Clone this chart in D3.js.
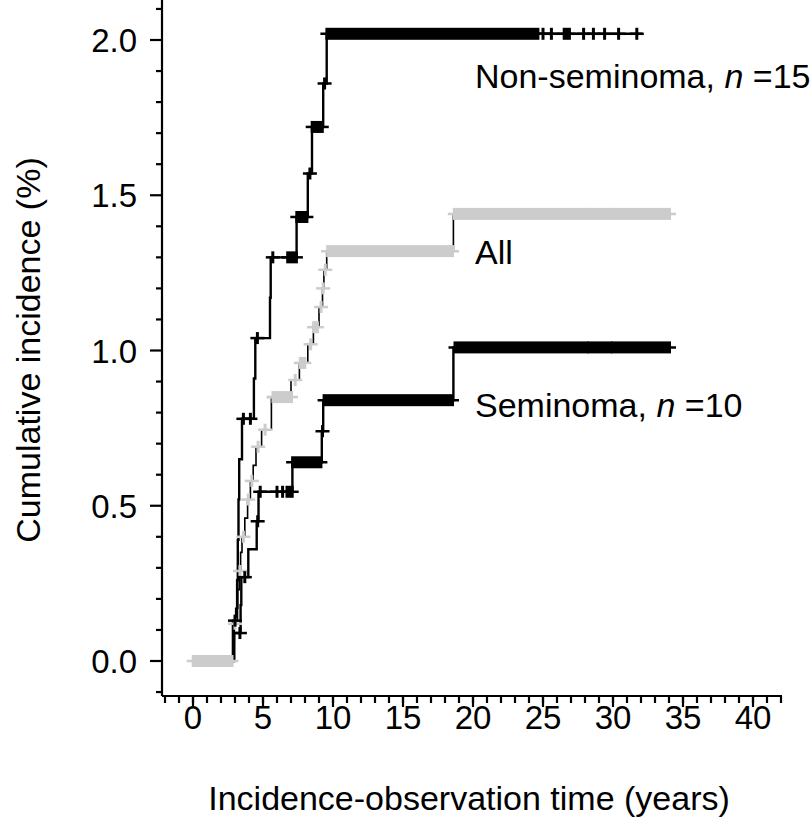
<!DOCTYPE html>
<html>
<head>
<meta charset="utf-8">
<script src="https://cdn.jsdelivr.net/npm/d3@7"></script>
<style>
  html, body { margin: 0; padding: 0; background: #fff; }
  svg { display: block; }
  text { font-family: "Liberation Sans", Arial, Helvetica, sans-serif; fill: #000; }
</style>
</head>
<body>
<svg id="chart" width="811" height="828"></svg>
<script>
// ---------------- DATA ----------------
// step functions: [time (years), cumulative incidence (%) after the step]
const nonSemSteps = [[0,0],[2.85,0.13],[3.15,0.26],[3.2,0.39],[3.25,0.52],[3.3,0.65],[3.5,0.78],[4.35,0.91],[4.45,1.04],[5.5,1.17],[5.55,1.30],[7.4,1.43],[8.2,1.57],[8.5,1.72],[9.3,1.86],[9.55,2.02]];
const nonSemEnd = 32.1;
const nonSemCensor = [3.0, 3.6, 4.1, 4.6, 5.7, 8.35, 9.4, 25.0, 25.6, 27.9, 28.6, 29.4, 30.4, 31.7];
const nonSemCensorBands = [[6.8,7.35],[7.45,8.1],[8.55,9.2],[9.6,24.6],[26.55,26.85]];

const semSteps = [[0,0],[2.95,0.09],[3.4,0.18],[3.45,0.27],[3.95,0.36],[4.55,0.45],[4.68,0.545],[7.1,0.64],[9.2,0.74],[9.3,0.84],[18.6,1.01]];
const semEnd = 34.0;
const semCensor = [3.35, 3.7, 4.62, 4.8, 6.0, 6.4, 9.25];
const semCensorBands = [[6.75,7.05],[7.15,9.1],[9.4,18.5],[18.75,28.1],[28.3,29.8],[30.0,34.0]];

const allSteps = [[0,0],[2.85,0.06],[2.95,0.12],[3.05,0.17],[3.2,0.23],[3.3,0.29],[3.4,0.35],[3.5,0.40],[3.7,0.46],[3.9,0.52],[4.1,0.58],[4.3,0.63],[4.5,0.69],[4.9,0.745],[5.6,0.85],[7.0,0.905],[7.6,0.96],[8.2,1.02],[8.6,1.075],[9.0,1.14],[9.25,1.20],[9.35,1.26],[9.55,1.32],[18.6,1.44]];
const allEnd = 34.0;
const allCensor = [3.0, 3.35, 3.6, 3.95, 4.2, 4.65, 5.15, 5.8, 6.4, 7.3, 8.4, 9.15, 9.3, 9.45];
const allCensorBands = [[0.05,2.75],[5.75,7.0],[7.7,7.95],[8.65,8.85],[9.65,18.5],[18.7,28.1],[28.3,29.8],[30.0,34.0]];

const xMajorTicks = [0,5,10,15,20,25,30,35,40];
const xMinorTicks = d3.range(-2, 43, 1);
const yMajorTicks = [0,0.5,1.0,1.5,2.0];
const yMinorTicks = [-0.1,0.1,0.2,0.3,0.4,0.6,0.7,0.8,0.9,1.1,1.2,1.3,1.4,1.6,1.7,1.8,1.9,2.1];

// curve labels, placed at a (value) height beside the curve ends
const labels = [
  {name: "Non-seminoma", n: "15", v: 1.885},
  {name: "All", n: null, v: 1.318},
  {name: "Seminoma", n: "10", v: 0.824}
];

// ---------------- SCALES ----------------
const svg = d3.select("#chart");
const x = d3.scaleLinear().domain([0, 40]).range([193, 753]);
const y = d3.scaleLinear().domain([0, 2]).range([661, 40]);
const axisX0 = 162, axisY0 = 696;

// ---------------- AXES ----------------
const gY = svg.append("g");
gY.append("line").attr("x1", axisX0).attr("x2", axisX0).attr("y1", 0).attr("y2", axisY0)
  .attr("stroke", "#000").attr("stroke-width", 2.2);
gY.selectAll(".ymaj").data(yMajorTicks).join("line")
  .attr("x1", axisX0 - 12).attr("x2", axisX0).attr("y1", d => y(d)).attr("y2", d => y(d))
  .attr("stroke", "#000").attr("stroke-width", 2.2);
gY.selectAll(".ymin").data(yMinorTicks).join("line")
  .attr("x1", axisX0 - 6).attr("x2", axisX0).attr("y1", d => y(d)).attr("y2", d => y(d))
  .attr("stroke", "#000").attr("stroke-width", 2.2);
gY.selectAll(".ylab").data(yMajorTicks).join("text")
  .attr("x", 137).attr("y", d => y(d) + 12)
  .attr("text-anchor", "end").attr("font-size", 33)
  .text(d => d3.format(".1f")(d));

const gX = svg.append("g");
gX.append("line").attr("x1", axisX0).attr("x2", x(42) + 1).attr("y1", axisY0).attr("y2", axisY0)
  .attr("stroke", "#000").attr("stroke-width", 2.2);
gX.selectAll(".xmin").data(xMinorTicks).join("line")
  .attr("x1", d => x(d)).attr("x2", d => x(d)).attr("y1", axisY0).attr("y2", axisY0 + 7)
  .attr("stroke", "#000").attr("stroke-width", 2.2);
gX.selectAll(".xmaj").data(xMajorTicks).join("line")
  .attr("x1", d => x(d)).attr("x2", d => x(d)).attr("y1", axisY0).attr("y2", axisY0 + 11)
  .attr("stroke", "#000").attr("stroke-width", 2.2);
gX.selectAll(".xlab").data(xMajorTicks).join("text")
  .attr("x", d => x(d)).attr("y", 729)
  .attr("text-anchor", "middle").attr("font-size", 33)
  .text(d => d);

svg.append("text").attr("x", 469).attr("y", 810).attr("text-anchor", "middle")
  .attr("font-size", 34).text("Incidence-observation time (years)");
svg.append("text").attr("transform", "translate(40,350) rotate(-90)")
  .attr("text-anchor", "middle").attr("font-size", 34).text("Cumulative incidence (%)");

// ---------------- CURVES ----------------
function stepValue(steps, t) {
  let v = steps[0][1];
  for (const s of steps) { if (s[0] <= t) v = s[1]; }
  return v;
}
const line = d3.line().x(d => x(d[0])).y(d => y(d[1])).curve(d3.curveStepAfter);

const series = [
  {steps: allSteps, end: allEnd, censor: allCensor, bands: allCensorBands, mark: "#cccccc", lw: 1.6},
  {steps: semSteps, end: semEnd, censor: semCensor, bands: semCensorBands, mark: "#000", lw: 2.4},
  {steps: nonSemSteps, end: nonSemEnd, censor: nonSemCensor, bands: nonSemCensorBands, mark: "#000", lw: 2.4}
];

// lines first
series.forEach(s => {
  const pts = s.steps.concat([[s.end, s.steps[s.steps.length - 1][1]]]);
  svg.append("path").datum(pts).attr("d", line)
    .attr("fill", "none").attr("stroke", "#000").attr("stroke-width", s.lw);
});

// censor marks
series.forEach(s => {
  const g = svg.append("g");
  g.selectAll(".band").data(s.bands).join("g").each(function(b) {
    const v = stepValue(s.steps, (b[0] + b[1]) / 2);
    const sel = d3.select(this);
    sel.append("rect").attr("x", x(b[0]) - 2).attr("width", x(b[1]) - x(b[0]) + 4)
      .attr("y", y(v) - 6).attr("height", 12).attr("fill", s.mark);
    sel.append("line").attr("x1", x(b[0]) - 7).attr("x2", x(b[1]) + 7)
      .attr("y1", y(v)).attr("y2", y(v)).attr("stroke", s.mark).attr("stroke-width", 2.5);
  });
  g.selectAll(".cross").data(s.censor).join("g").each(function(t) {
    const v = stepValue(s.steps, t);
    const sel = d3.select(this);
    sel.append("line").attr("x1", x(t) - 7).attr("x2", x(t) + 7)
      .attr("y1", y(v)).attr("y2", y(v)).attr("stroke", s.mark).attr("stroke-width", 2.5);
    sel.append("line").attr("x1", x(t)).attr("x2", x(t))
      .attr("y1", y(v) - 6).attr("y2", y(v) + 6).attr("stroke", s.mark).attr("stroke-width", 3);
  });
});

// ---------------- LABELS ----------------
labels.forEach(l => {
  const t = svg.append("text").attr("x", 475).attr("y", y(l.v) + 12).attr("font-size", 34);
  t.append("tspan").text(l.name + (l.n ? ", " : ""));
  if (l.n) {
    t.append("tspan").attr("font-style", "italic").text("n");
    t.append("tspan").text(" =" + l.n);
  }
});
</script>
</body>
</html>
